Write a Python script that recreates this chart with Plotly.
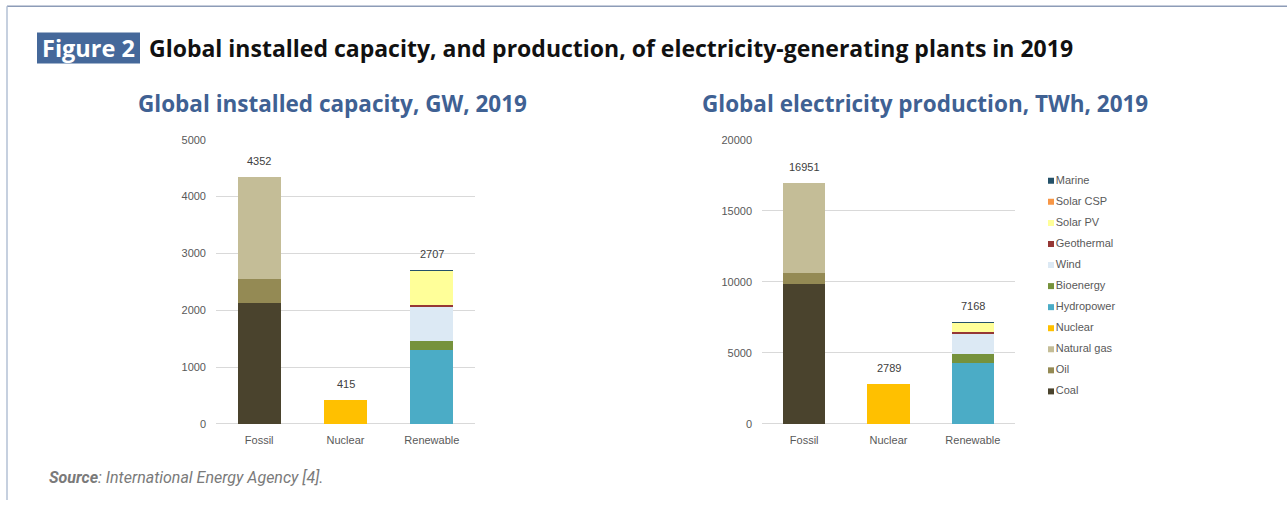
import plotly.graph_objects as go

# ---------------- data ----------------
categories = ["Fossil", "Nuclear", "Renewable"]
sources = ["Coal", "Oil", "Natural gas", "Nuclear", "Hydropower", "Bioenergy",
           "Wind", "Geothermal", "Solar PV", "Solar CSP", "Marine"]
source_category = ["Fossil", "Fossil", "Fossil", "Nuclear", "Renewable", "Renewable",
                   "Renewable", "Renewable", "Renewable", "Renewable", "Renewable"]
capacity_gw = [2125, 431, 1796, 415, 1307, 147, 621, 15, 611, 5.5, 0.5]
production_twh = [9824, 795, 6332, 2789, 4318, 632, 1407, 92, 705, 13, 1]
source_colors = ["#4a432d", "#948a54", "#c4bd97", "#ffc000", "#4bacc6", "#76923c",
                 "#dce9f4", "#953735", "#ffff99", "#f79646", "#245169"]

title_main = "Global installed capacity, and production, of electricity-generating plants in 2019"
title_left = "Global installed capacity, GW, 2019"
title_right = "Global electricity production, TWh, 2019"
cap_ticks = [0, 1000, 2000, 3000, 4000, 5000]
prod_ticks = [0, 5000, 10000, 15000, 20000]

W, H = 1287, 506
def px(x):
    return x / W
def py(y):
    yl = (y - 6.7) / 0.9735
    return min(1.0, 1 - yl / H)

TICK_COLOR = "#595959"
GRID = "#d9d9d9"
AX_FONT = dict(family="Liberation Sans, Arial, sans-serif", size=11, color=TICK_COLOR)

fig = go.Figure()

def add_panel(values, xa, ya):
    for name, cat, val, col in zip(sources, source_category, values, source_colors):
        fig.add_trace(go.Bar(x=[cat], y=[val], name=name, marker_color=col,
                             marker_line_width=0, xaxis=xa, yaxis=ya,
                             showlegend=False, hoverinfo="name+y"))
    totals = {c: 0 for c in categories}
    for cat, val in zip(source_category, values):
        totals[cat] += val
    for c in categories:
        fig.add_annotation(x=c, y=totals[c], xref=xa, yref=ya, text=str(int(round(totals[c]))),
                           showarrow=False, yanchor="bottom", yshift=8,
                           font=dict(family="Liberation Sans, Arial, sans-serif", size=11, color="#404040"))

add_panel(capacity_gw, "x", "y")
add_panel(production_twh, "x2", "y2")

# custom legend (Marine on top ... Coal at bottom)
fig.add_trace(go.Scatter(x=[0] * len(sources), y=list(range(len(sources))), mode="markers+text",
                         text=sources, textposition="middle right",
                         marker=dict(symbol="square", size=6, color=source_colors),
                         textfont=dict(family="Liberation Sans, Arial, sans-serif", size=11, color=TICK_COLOR),
                         xaxis="x3", yaxis="y3", showlegend=False, hoverinfo="skip"))

ydom = [py(423.5), py(140)]
common_x = dict(type="category", categoryorder="array", categoryarray=categories,
                showgrid=False, showline=False, zeroline=False, ticks="",
                tickfont=AX_FONT, ticklabelstandoff=8, fixedrange=True)
common_y = dict(showgrid=True, gridcolor=GRID, gridwidth=1, zeroline=True,
                zerolinecolor=GRID, zerolinewidth=1, showline=False, ticks="",
                tickfont=AX_FONT, ticklabelstandoff=9, fixedrange=True)

fig.update_layout(
    width=W, height=H, margin=dict(l=0, r=0, t=0, b=0),
    paper_bgcolor="white", plot_bgcolor="white",
    barmode="stack", bargap=0.5, showlegend=False,
    xaxis=dict(domain=[px(216), px(475)], anchor="y", **common_x),
    yaxis=dict(domain=ydom, anchor="x", range=[0, 5000], tickvals=cap_ticks,
               ticktext=[str(v) for v in cap_ticks], **common_y),
    xaxis2=dict(domain=[px(762), px(1015)], anchor="y2", **common_x),
    yaxis2=dict(domain=ydom, anchor="x2", range=[0, 20000], tickvals=prod_ticks,
                ticktext=[str(v) for v in prod_ticks], **common_y),
    xaxis3=dict(domain=[px(1040), px(1200)], anchor="y3", range=[-11, 149], visible=False, fixedrange=True),
    yaxis3=dict(domain=[py(401.5), py(170.5)], anchor="x3", range=[-0.5, len(sources) - 0.5],
                visible=False, fixedrange=True),
)

# page frame
fig.add_shape(type="line", xref="paper", yref="paper", x0=px(7), x1=1, y0=py(7), y1=py(7),
              line=dict(color="#8d9cb7", width=1.5))
fig.add_shape(type="line", xref="paper", yref="paper", x0=px(7), x1=px(7), y0=py(7), y1=0,
              line=dict(color="#b3c1d5", width=1.5))
# figure badge
fig.add_shape(type="rect", xref="paper", yref="paper", x0=px(37), x1=px(140), y0=py(64), y1=py(33),
              fillcolor="#45689a", line_width=0, layer="below")

TITLE_FONT = "Open Sans, Noto Sans, sans-serif"
fig.add_annotation(xref="paper", yref="paper", x=px(88.5), y=py(48.5), xanchor="center", yanchor="middle",
                   text="Figure 2", showarrow=False,
                   font=dict(family=TITLE_FONT, size=23.5, color="white", weight="bold"))
fig.add_annotation(xref="paper", yref="paper", x=px(147), y=py(48.5), xanchor="left", yanchor="middle",
                   text=title_main, showarrow=False,
                   font=dict(family=TITLE_FONT, size=23, color="#111111", weight="bold"))
fig.add_annotation(xref="paper", yref="paper", x=px(332), y=py(104), xanchor="center", yanchor="middle",
                   text=title_left, showarrow=False,
                   font=dict(family=TITLE_FONT, size=22.5, color="#3f6193", weight="bold"))
fig.add_annotation(xref="paper", yref="paper", x=px(925), y=py(104), xanchor="center", yanchor="middle",
                   text=title_right, showarrow=False,
                   font=dict(family=TITLE_FONT, size=22.5, color="#3f6193", weight="bold"))
fig.add_annotation(xref="paper", yref="paper", x=px(47), y=py(477), xanchor="left", yanchor="middle",
                   text="<b><i>Source</i></b><i>: International Energy Agency [4].</i>", showarrow=False,
                   font=dict(family="Roboto, sans-serif", size=16, color="#7a7a7a"))

fig.write_html("out.html", config={"displayModeBar": False},
               post_script="document.body.style.margin='0';document.body.style.overflow='hidden';")
